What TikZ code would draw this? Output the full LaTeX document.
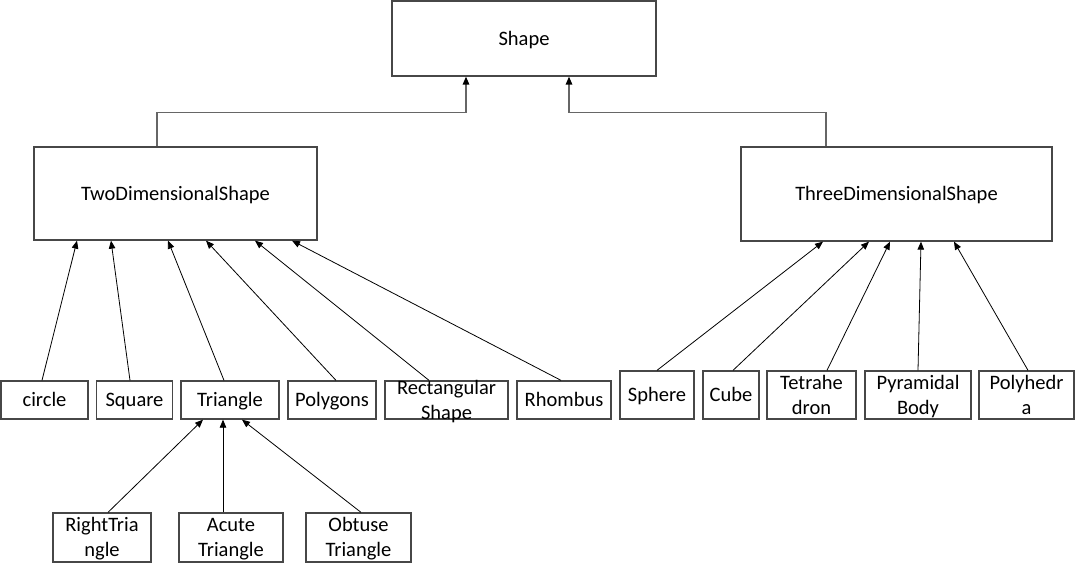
\documentclass[tikz,border=0pt]{standalone}
\usepackage{fontspec}
\setmainfont{Carlito}
\usetikzlibrary{arrows.meta,calc}
\begin{document}
\begin{tikzpicture}[x=1pt,y=-1pt,
  box/.style={draw=black!72,line width=1.3pt,rectangle,inner sep=0pt,
    font=\fontsize{20.5}{25}\selectfont,align=center,text=black},
  one/.style={box,text height=13.5pt,text depth=0pt},
  twol/.style={box,text height=38.5pt,text depth=0pt},
  txt/.style={inner sep=0pt,font=\fontsize{20.5}{25}\selectfont,align=center,text=black,
    text height=38.5pt,text depth=0pt},
  arr/.style={draw=black,line width=0.8pt,-{Triangle[length=8pt,width=6.5pt]}},
  elbow/.style={draw=black!60,line width=1.5pt,-{Triangle[length=8pt,width=6.5pt,color=black]}}]
\useasboundingbox (0,0) rectangle (1077,573);
% top
\node[one,minimum width=264,minimum height=75] (shape) at (524,38.5) {Shape};
\node[one,minimum width=283,minimum height=93] (two) at (175.5,193.5) {TwoDimensionalShape};
\node[one,minimum width=311,minimum height=94] (three) at (896.5,194) {ThreeDimensionalShape};
% 2D row
\node[one,minimum width=87,minimum height=38] (circle) at (44.5,400) {circle};
\node[one,minimum width=76,minimum height=38] (square) at (134.5,400) {Square};
\node[one,minimum width=98,minimum height=38] (triangle) at (230,400) {Triangle};
\node[one,minimum width=88,minimum height=38] (polygons) at (332,400) {Polygons};
\node[box,minimum width=123,minimum height=38] (rect) at (446.5,400) {};
\node[txt] at (rect.center) {Rectangular\\Shape};
\node[one,minimum width=94,minimum height=38] (rhombus) at (564,400) {Rhombus};
% 3D row
\node[one,minimum width=74,minimum height=48] (sphere) at (657,395) {Sphere};
\node[one,minimum width=56,minimum height=48] (cube) at (731,395) {Cube};
\node[twol,minimum width=89,minimum height=48] (tetra) at (811.5,395) {Tetrahe\\dron};
\node[twol,minimum width=106,minimum height=48] (pyr) at (918,395) {Pyramidal\\Body};
\node[twol,minimum width=95,minimum height=48] (poly) at (1026.5,395) {Polyhedr\\a};
% triangle children
\node[twol,minimum width=98,minimum height=49] (right) at (102,537.5) {RightTria\\ngle};
\node[twol,minimum width=104,minimum height=49] (acute) at (231,537.5) {Acute\\Triangle};
\node[twol,minimum width=105,minimum height=49] (obtuse) at (358.5,537.5) {Obtuse\\Triangle};
% elbows to Shape
\draw[elbow] ([xshift=-18.5pt]two.north) -- ++(0,-34) -| ([xshift=-58pt]shape.south);
\draw[elbow] ([xshift=-70.5pt]three.north) -- ++(0,-34) -| ([xshift=45pt]shape.south);
% 2D arrows
\draw[arr] ([xshift=-2.5pt]circle.north) -- ([xshift=-98.5pt]two.south);
\draw[arr] ([xshift=-4.5pt]square.north) -- ([xshift=-64.5pt]two.south);
\draw[arr] ([xshift=-6pt]triangle.north) -- ([xshift=-7.5pt]two.south);
\draw[arr] ([xshift=4pt]polygons.north) -- ([xshift=30.5pt]two.south);
\draw[arr] ([xshift=-17.5pt]rect.north) -- ([xshift=79.5pt]two.south);
\draw[arr] ([xshift=-3pt]rhombus.north) -- ([xshift=116.5pt]two.south);
% 3D arrows
\draw[arr] (sphere.north) -- ([xshift=-73.5pt]three.south);
\draw[arr] ([xshift=2pt]cube.north) -- ([xshift=-27.5pt]three.south);
\draw[arr] ([xshift=15.5pt]tetra.north) -- ([xshift=-6.5pt]three.south);
\draw[arr] (pyr.north) -- ([xshift=24.5pt]three.south);
\draw[arr] ([xshift=1.5pt]poly.north) -- ([xshift=57.5pt]three.south);
% triangle children arrows
\draw[arr] ([xshift=6pt]right.north) -- ([xshift=-27pt]triangle.south);
\draw[arr] ([xshift=-8pt]acute.north) -- ([xshift=-7pt]triangle.south);
\draw[arr] ([xshift=2.5pt]obtuse.north) -- ([xshift=12pt]triangle.south);
\end{tikzpicture}
\end{document}
